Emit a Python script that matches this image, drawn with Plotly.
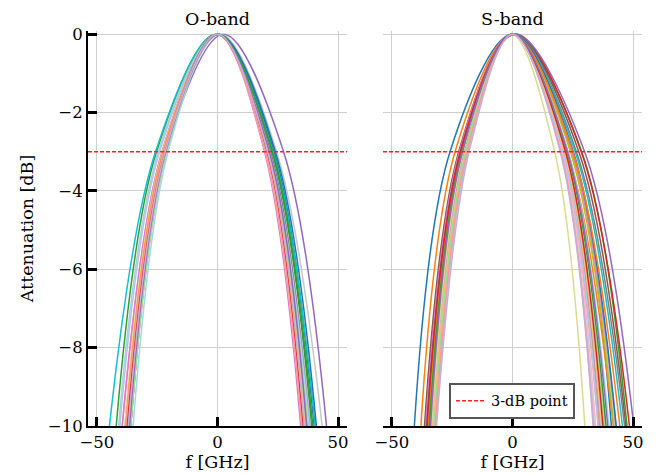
import plotly.graph_objects as go

# attenuation levels (dB) at which each curve's frequency is read
levels = [-10, -3, 0, -3, -10]

# O-band curves: frequency (GHz) at -10 dB (left), -3 dB (left), peak, -3 dB (right), -10 dB (right)
o_left10 = [-37.5, -41.0, -36.5, -38.0, -42.0, -37.0, -36.0, -39.5, -37.0, -36.5,
            -36.0, -37.5, -39.5, -36.0, -37.0, -36.5, -37.5, -38.5, -44.8, -35.0,
            -37.0, -40.5, -38.0, -36.8, -37.2, -36.0, -37.5, -38.0, -36.5, -37.0]
o_left3 = [-22.0, -24.5, -21.5, -22.5, -25.3, -21.8, -21.3, -23.0, -21.5, -21.0,
           -21.2, -22.0, -23.0, -21.0, -21.8, -21.5, -22.3, -22.8, -25.7, -20.5,
           -21.8, -24.0, -22.5, -21.6, -22.0, -21.2, -22.0, -22.3, -21.5, -21.7]
o_peak = [0.5, 0.0, 0.0, 0.0, -0.5, 0.0, 0.0, 0.0, 2.5, 0.0,
          0.0, 0.0, 0.0, 0.0, 0.5, 1.0, 0.0, 0.0, -0.5, 0.0,
          0.5, 0.0, 0.0, 0.0, 0.0, 0.0, 0.0, 0.0, 0.0, 0.0]
o_right3 = [23.5, 22.5, 21.0, 20.5, 22.5, 21.5, 20.0, 20.5, 27.4, 22.0,
            20.2, 21.0, 19.5, 19.8, 22.0, 24.5, 21.0, 21.5, 23.0, 21.5,
            24.0, 21.0, 20.5, 20.8, 22.8, 21.2, 20.2, 20.0, 21.5, 20.8]
o_right10 = [40.0, 39.5, 36.5, 35.5, 39.0, 37.5, 35.5, 35.0, 45.2, 38.5,
             35.2, 36.5, 34.5, 35.0, 38.0, 43.4, 37.0, 37.5, 40.5, 38.0,
             41.0, 36.5, 36.0, 36.2, 39.5, 37.2, 35.3, 35.0, 37.0, 36.0]

# S-band curves
s_left10 = [-40.7, -33.5, -38.0, -34.0, -35.5, -33.0, -36.0, -33.5, -35.5, -33.5,
            -36.5, -33.0, -36.0, -32.5, -35.0, -31.8, -35.0, -33.5, -34.5, -33.0,
            -35.5, -32.0, -35.0, -33.0, -34.5, -32.5, -35.5, -32.0, -34.0, -31.5]
s_left3 = [-25.9, -20.5, -23.8, -20.8, -21.8, -19.8, -22.0, -20.0, -21.7, -20.2,
           -22.3, -19.8, -22.0, -19.0, -21.0, -18.5, -21.2, -20.5, -20.8, -19.5,
           -21.5, -18.5, -21.3, -19.5, -21.0, -19.3, -21.6, -18.8, -20.8, -18.0]
s_peak = [0.0, 0.5, 0.0, 0.0, 0.5, 0.0, 1.0, 0.0, 1.0, 0.0,
          0.5, 0.0, 0.0, 0.0, 0.5, 0.0, 0.0, -0.5, 0.5, 0.0,
          0.5, 0.0, 0.0, 0.0, 0.0, 0.0, 0.0, 0.0, 0.0, 0.0]
s_right3 = [25.0, 24.5, 23.0, 22.0, 28.7, 21.5, 28.5, 20.5, 29.9, 21.0,
            27.5, 21.5, 24.5, 20.5, 26.5, 20.0, 24.0, 17.5, 26.0, 23.0,
            25.2, 21.0, 25.0, 21.5, 22.5, 22.0, 22.0, 20.0, 22.8, 19.8]
s_right10 = [41.0, 42.5, 41.8, 38.0, 47.5, 38.5, 48.5, 35.5, 50.3, 36.5,
             47.0, 36.0, 43.0, 34.5, 46.5, 34.0, 42.0, 30.0, 45.6, 40.0,
             43.0, 35.5, 44.5, 37.0, 38.8, 38.0, 37.5, 33.5, 39.5, 33.5]

colors = ["#1f77b4", "#aec7e8", "#ff7f0e", "#ffbb78", "#2ca02c", "#98df8a",
          "#d62728", "#ff9896", "#9467bd", "#c5b0d5", "#8c564b", "#c49c94",
          "#e377c2", "#f7b6d2", "#7f7f7f", "#c7c7c7", "#bcbd22", "#dbdb8d",
          "#17becf", "#9edae5"]

titles = ["O-band", "S-band"]
xticks = [-50, 0, 50]
yticks = [0, -2, -4, -6, -8, -10]
three_db = -3

FONT = "DejaVu Serif"
TICK = 16.5
LAB = 17.5
fig = go.Figure()

bands = [
    (o_left10, o_left3, o_peak, o_right3, o_right10),
    (s_left10, s_left3, s_peak, s_right3, s_right10),
]
for p, (l10, l3, pk, r3, r10) in enumerate(bands):
    xa = "x" if p == 0 else "x2"
    ya = "y" if p == 0 else "y2"
    for i in range(len(l10)):
        fig.add_trace(go.Scatter(
            x=[l10[i], l3[i], pk[i], r3[i], r10[i]], y=levels,
            mode="lines", line=dict(color=colors[i % 20], width=1.5, shape="spline", smoothing=1.0),
            xaxis=xa, yaxis=ya, showlegend=False, hoverinfo="skip"))
    fig.add_trace(go.Scatter(
        x=[-53.7, 53.7], y=[three_db, three_db], mode="lines",
        line=dict(color="#ff2222", width=1.5, dash="4px,2px"),
        xaxis=xa, yaxis=ya, name="3-dB point", showlegend=(p == 1)))

axis_common = dict(
    range=[-53.7, 53.7], tickvals=xticks, showgrid=True, gridcolor="#cfcfcf", gridwidth=1,
    zeroline=False, showline=True, linecolor="black", linewidth=2, automargin=False,
    ticks="inside", ticklen=9, tickwidth=2.5, tickcolor="black",
    tickfont=dict(family=FONT, size=TICK, color="black"),
    title=dict(text="f [GHz]", font=dict(family=FONT, size=LAB, color="black"), standoff=4),
)
fig.update_layout(
    width=660, height=473,
    margin=dict(l=88, r=18, t=31, b=47, autoexpand=False),
    plot_bgcolor="white", paper_bgcolor="white",
    xaxis=dict(domain=[0, 0.4675], anchor="y", **axis_common),
    xaxis2=dict(domain=[0.5325, 1], anchor="y2", **axis_common),
    yaxis=dict(range=[-10, 0.08], tickvals=yticks, showgrid=True, gridcolor="#cfcfcf",
               zeroline=False, showline=True, linecolor="black", linewidth=2, automargin=False,
               ticks="inside", ticklen=9, tickwidth=2.5, tickcolor="black",
               tickfont=dict(family=FONT, size=TICK, color="black"),
               title=dict(text="Attenuation [dB]", font=dict(family=FONT, size=LAB, color="black"), standoff=10)),
    yaxis2=dict(range=[-10, 0.08], tickvals=yticks, showgrid=True, gridcolor="#cfcfcf",
                zeroline=False, showline=False, showticklabels=False, anchor="x2", automargin=False),
    legend=dict(x=0.6516, y=0.018, xanchor="left", yanchor="bottom",
                bgcolor="white", bordercolor="#555555", borderwidth=2,
                font=dict(family=FONT, size=14.5, color="black")),
    annotations=[
        dict(text=titles[0], x=0.23375, y=1.0, xref="paper", yref="paper", xanchor="center",
             yanchor="bottom", yshift=0, showarrow=False, font=dict(family=FONT, size=LAB, color="black")),
        dict(text=titles[1], x=0.76625, y=1.0, xref="paper", yref="paper", xanchor="center",
             yanchor="bottom", yshift=0, showarrow=False, font=dict(family=FONT, size=LAB, color="black")),
    ],
)
fig.write_html("out.html")
